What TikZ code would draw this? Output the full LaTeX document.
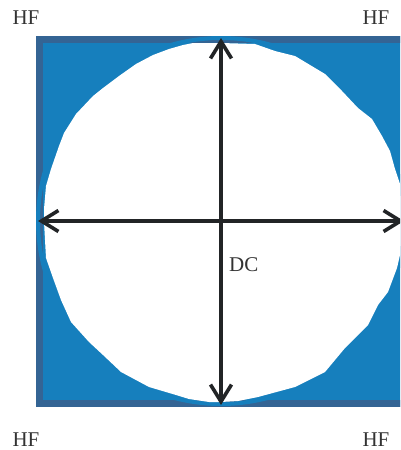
\documentclass[tikz,border=0pt]{standalone}
\usepackage{fontspec}
\setmainfont{Liberation Serif}
\definecolor{hfBorder}{HTML}{346494}
\definecolor{hfFill}{HTML}{167FBD}
\definecolor{dcInk}{HTML}{222426}
\definecolor{txInk}{HTML}{333333}
\usetikzlibrary{arrows.meta}

\begin{document}
\begin{tikzpicture}[
  x=1pt,y=-1pt,
  font=\fontsize{21}{24}\selectfont,
  lbl/.style={text=txInk,inner sep=0pt},
  axis/.style={dcInk,line width=3.6pt},
  >={Straight Barb[length=17pt,width=21pt,line width=3.6pt]}
]
\useasboundingbox (0,0) rectangle (400,450);
\clip (0,0) rectangle (400,450);
% blue square with its frame
\fill[hfFill] (36,36) rectangle (412,407);
\draw[hfBorder,line width=7pt] (39.5,39.5) rectangle (412,403.5);
\draw[hfFill,line width=4pt] (221,221) circle[radius=183];
% white disc, drawn as a rough polygon
\fill[white] (221,43) -- (255,44) -- (275,51) -- (295,56) -- (325,74) -- (342,91)
  -- (358,108) -- (372,119) -- (382,136) -- (390,151) -- (395,169) -- (400,184)
  -- (404,221) -- (402,240) -- (400,255) -- (397,268) -- (388,292) -- (378,305)
  -- (368,325) -- (345,348) -- (325,372) -- (295,387) -- (258,397) -- (238,401)
  -- (221,402) -- (209,402) -- (189,399) -- (176,395) -- (149,387) -- (121,372)
  -- (103,355) -- (89,342) -- (71,322) -- (61,300) -- (53,278) -- (46,258)
  -- (44,222) -- (44,209) -- (46,186) -- (51,169) -- (59,146) -- (64,133)
  -- (76,114) -- (93,96) -- (103,88) -- (119,76) -- (136,64) -- (153,55)
  -- (169,49) -- (183,45) -- (193,43) -- cycle;
% arrows
\coordinate (top) at (221,38);
\coordinate (bot) at (221,405);
\coordinate (lft) at (38,221);
\coordinate (rgt) at (404,221);
\draw[axis,<->] (top) -- (bot);
\draw[axis,<->] (lft) -- (rgt);
\node[lbl,anchor=west] (dc) at (229,265) {DC};
\foreach \x/\y/\nm in {26/18/tl,376/18/tr,26/440/bl,376/440/br}{
  \node[lbl] (hf\nm) at (\x,\y) {HF};
}
\end{tikzpicture}
\end{document}
